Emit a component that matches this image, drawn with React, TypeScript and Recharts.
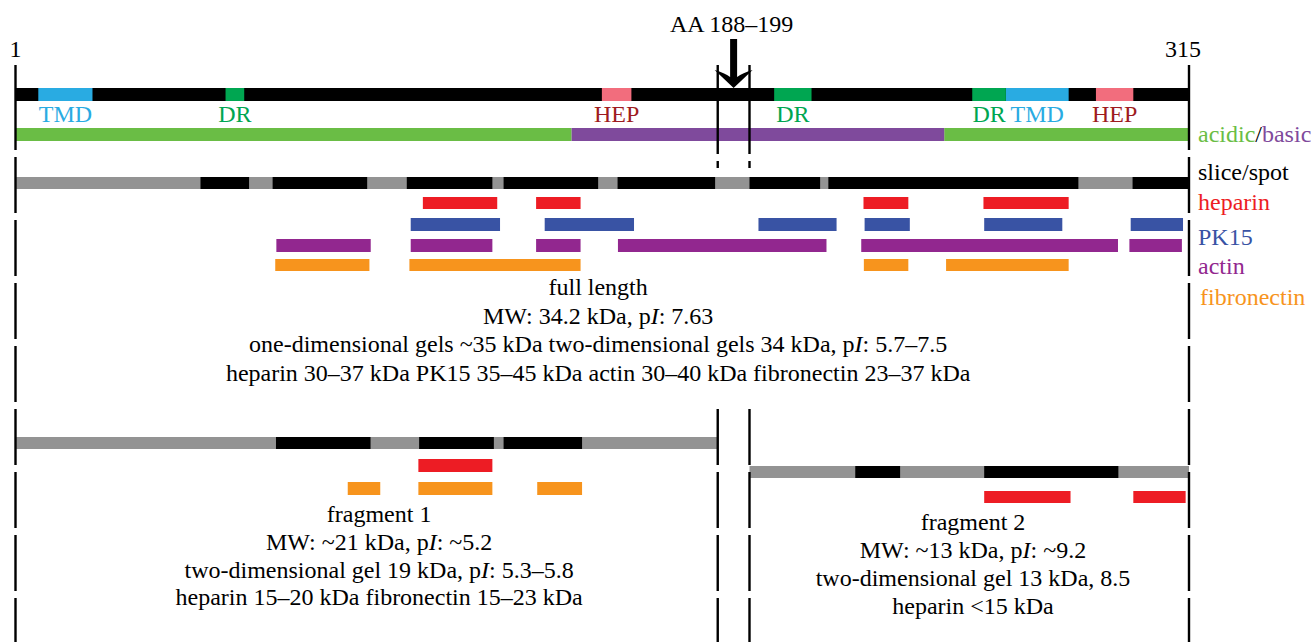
import React from 'react'
import {
  ComposedChart,
  XAxis,
  YAxis,
  ReferenceArea,
  ReferenceLine,
  ReferenceDot,
} from 'recharts'

type Span = [number, number]

// sequence numbering
const residueDomain: Span = [1, 315]
const cleavageSite: Span = [188.9, 197.4]
const cleavageLabel = 'AA 188–199'

// annotated domains on the sequence
const tmdSpans: Span[] = [[7.1, 21.6], [266, 282.8]]
const drSpans: Span[] = [[57.2, 62.2], [204, 214], [257, 266]]
const hepSpans: Span[] = [[157.9, 165.8], [290.1, 300.1]]
const acidicSpans: Span[] = [[1, 149.8], [249.5, 315]]
const basicSpans: Span[] = [[149.8, 249.5]]

// slice/spot coverage: grey = whole fragment, black = identified spots
const fullRange: Span = [1, 315]
const fullSpots: Span[] = [
  [50.5, 63.5], [69.8, 95.1], [105.7, 128.6], [131.6, 156.9],
  [162.1, 188.2], [197.4, 216.3], [218.5, 285.4], [299.9, 315],
]
const frag1Range: Span = [1, 188.9]
const frag1Spots: Span[] = [[70.7, 96], [109, 129], [131.6, 152.6]]
const frag2Range: Span = [197.4, 315]
const frag2Spots: Span[] = [[225.7, 237.7], [260.2, 296.1]]

// binding peptides, full length
const fullHeparin: Span[] = [[110, 129.9], [140.3, 152.2], [227.9, 239.9], [260, 282.8]]
const fullPK15: Span[] = [
  [106.75, 130.65], [142.6, 166.5], [199.8, 220.7],
  [228.2, 240.3], [260.2, 281.1], [299.4, 313.4],
]
const fullActin: Span[] = [
  [70.8, 96.05], [106.75, 128.6], [140.3, 152.2],
  [162.2, 218], [227.3, 296], [299.05, 313.1],
]
const fullFibronectin: Span[] = [[70.5, 95.7], [106.4, 152.2], [228, 239.9], [250, 282.8]]

// binding peptides, fragments
const frag1Heparin: Span[] = [[108.8, 128.6]]
const frag1Fibronectin: Span[] = [[89.9, 98.6], [108.8, 128.6], [140.6, 152.6]]
const frag2Heparin: Span[] = [[260.2, 283.3], [300.1, 314.1]]

const fullText = [
  'full length',
  'MW: 34.2 kDa, pI: 7.63',
  'one-dimensional gels ~35 kDa two-dimensional gels 34 kDa, pI: 5.7–7.5',
  'heparin 30–37 kDa PK15 35–45 kDa actin 30–40 kDa fibronectin 23–37 kDa',
]
const frag1Text = [
  'fragment 1',
  'MW: ~21 kDa, pI: ~5.2',
  'two-dimensional gel 19 kDa, pI: 5.3–5.8',
  'heparin 15–20 kDa fibronectin 15–23 kDa',
]
const frag2Text = [
  'fragment 2',
  'MW: ~13 kDa, pI: ~9.2',
  'two-dimensional gel 13 kDa, 8.5',
  'heparin <15 kDa',
]

const C = {
  black: '#000000',
  grey: '#939393',
  tmd: '#29abe2',
  dr: '#00a651',
  hep: '#f26d7d',
  hepText: '#9e1b20',
  acidic: '#6abd45',
  basic: '#7f4a9c',
  heparin: '#ed1c24',
  pk15: '#3953a4',
  actin: '#92278f',
  fibronectin: '#f7941d',
}

const FONT = '"Liberation Serif", "Times New Roman", serif'
const FS = 24

// row positions (pixels from top)
const ROW: Record<string, Span> = {
  domains: [88, 101],
  charge: [128, 141],
  fullSlice: [177, 189],
  fullHeparin: [197, 209],
  fullPK15: [218, 231],
  fullActin: [239, 252],
  fullFn: [259, 271],
  f1Slice: [437, 449],
  f1Heparin: [459, 472],
  f1Fn: [482, 495],
  f2Slice: [466, 478],
  f2Heparin: [491, 503],
}

const bars = (spans: Span[], row: Span, fill: string, key: string) =>
  spans.map(([a, b], i) => (
    <ReferenceArea
      key={`${key}-${i}`}
      x1={a}
      x2={b}
      y1={row[0]}
      y2={row[1]}
      fill={fill}
      fillOpacity={1}
      stroke="none"
      ifOverflow="visible"
    />
  ))

const withPI = (s: string) => {
  const parts = s.split('pI')
  return parts.map((p, i) => (
    <React.Fragment key={i}>
      {i > 0 && <tspan fontStyle="italic">I</tspan>}
      {i < parts.length - 1 ? p + 'p' : p}
    </React.Fragment>
  ))
}

const label = (
  key: string,
  x: number,
  y: number,
  content: React.ReactNode,
  fill = '#000',
  anchor: 'start' | 'middle' | 'end' = 'middle',
  dx = 0
) => (
  <ReferenceDot
    key={key}
    x={x}
    y={y}
    r={0}
    ifOverflow="visible"
    shape={(p: any) => (
      <text
        x={p.cx + dx}
        y={p.cy}
        fill={fill}
        textAnchor={anchor}
        fontFamily={FONT}
        fontSize={FS}
      >
        {content}
      </text>
    )}
  />
)

const vline = (key: string, x: number, y1: number, y2: number, dash?: string) => (
  <ReferenceLine
    key={key}
    segment={[{ x, y: y1 }, { x, y: y2 }]}
    stroke="#000"
    strokeWidth={2.4}
    strokeDasharray={dash}
    ifOverflow="visible"
  />
)

const mid = (s: Span) => (s[0] + s[1]) / 2

export default function App() {
  const cutMid = mid(cleavageSite)
  return (
    <div style={{ position: 'absolute', left: 0, top: 0, background: '#fff' }}>
      <ComposedChart
        width={1311}
        height={642}
        data={[]}
        margin={{ top: 0, right: 122, bottom: 0, left: 15.5 }}
      >
        <XAxis type="number" dataKey="x" domain={residueDomain} hide allowDataOverflow />
        <YAxis type="number" domain={[0, 642]} reversed hide allowDataOverflow />

        {/* frame lines */}
        {[residueDomain[0], residueDomain[1]].map((x, i) => [
          vline(`o${i}a`, x, 65, 150),
          vline(`o${i}b`, x, 157, 642, '56 7'),
        ])}
        {cleavageSite.map((x, i) => [
          vline(`c${i}a`, x, 65, 154),
          vline(`c${i}b`, x, 161, 168),
          vline(`c${i}c`, x, 409, 642, '56 7'),
        ])}

        {/* sequence with domains */}
        {bars([residueDomain], ROW.domains, C.black, 'seq')}
        {bars(tmdSpans, ROW.domains, C.tmd, 'tmd')}
        {bars(drSpans, ROW.domains, C.dr, 'dr')}
        {bars(hepSpans, ROW.domains, C.hep, 'hep')}
        {tmdSpans.map((s, i) => label(`tmdl${i}`, mid(s), 122, 'TMD', C.tmd))}
        {drSpans.map((s, i) => label(`drl${i}`, mid(s), 122, 'DR', C.dr))}
        {hepSpans.map((s, i) => label(`hepl${i}`, mid(s), 122, 'HEP', C.hepText))}

        {/* charge */}
        {bars(acidicSpans, ROW.charge, C.acidic, 'ac')}
        {bars(basicSpans, ROW.charge, C.basic, 'ba')}

        {/* full length */}
        {bars([fullRange], ROW.fullSlice, C.grey, 'fs')}
        {bars(fullSpots, ROW.fullSlice, C.black, 'fsp')}
        {bars(fullHeparin, ROW.fullHeparin, C.heparin, 'fh')}
        {bars(fullPK15, ROW.fullPK15, C.pk15, 'fp')}
        {bars(fullActin, ROW.fullActin, C.actin, 'fa')}
        {bars(fullFibronectin, ROW.fullFn, C.fibronectin, 'ff')}

        {/* fragment 1 */}
        {bars([frag1Range], ROW.f1Slice, C.grey, 'f1s')}
        {bars(frag1Spots, ROW.f1Slice, C.black, 'f1sp')}
        {bars(frag1Heparin, ROW.f1Heparin, C.heparin, 'f1h')}
        {bars(frag1Fibronectin, ROW.f1Fn, C.fibronectin, 'f1f')}

        {/* fragment 2 */}
        {bars([frag2Range], ROW.f2Slice, C.grey, 'f2s')}
        {bars(frag2Spots, ROW.f2Slice, C.black, 'f2sp')}
        {bars(frag2Heparin, ROW.f2Heparin, C.heparin, 'f2h')}

        {/* cleavage arrow */}
        <ReferenceDot
          x={cutMid}
          y={88}
          r={0}
          ifOverflow="visible"
          shape={(p: any) => {
            const cx = p.cx
            const cy = p.cy
            const d = `M${cx - 19},${cy - 18} Q${cx - 9},${cy - 15} ${cx - 3.5},${cy - 11} L${cx - 3.5},${cy - 49} L${cx + 3.5},${cy - 49} L${cx + 3.5},${cy - 11} Q${cx + 9},${cy - 15} ${cx + 19},${cy - 18} L${cx},${cy} Z`
            return <path d={d} fill="#000" />
          }}
        />
        {label('cut', cutMid, 31.5, cleavageLabel, '#000', 'middle', -2)}

        {/* ends */}
        {label('n', residueDomain[0], 57, '1')}
        {label('c', residueDomain[1], 57, '315', '#000', 'middle', -6)}

        {/* right legend */}
        {label(
          'lg0',
          residueDomain[1],
          141.5,
          <>
            <tspan fill={C.acidic}>acidic</tspan>
            <tspan fill="#000">/</tspan>
            <tspan fill={C.basic}>basic</tspan>
          </>,
          '#000',
          'start',
          9
        )}
        {label('lg1', residueDomain[1], 179.5, 'slice/spot', '#000', 'start', 9)}
        {label('lg2', residueDomain[1], 210, 'heparin', C.heparin, 'start', 9)}
        {label('lg3', residueDomain[1], 244.5, 'PK15', C.pk15, 'start', 9)}
        {label('lg4', residueDomain[1], 274, 'actin', C.actin, 'start', 9)}
        {label('lg5', residueDomain[1], 305, 'fibronectin', C.fibronectin, 'start', 11)}

        {/* descriptions */}
        {fullText.map((t, i) => label(`ft${i}`, 156.9, 295 + i * 28.7, withPI(t)))}
        {frag1Text.map((t, i) => label(`f1t${i}`, 98.3, 522 + i * 27.8, withPI(t)))}
        {frag2Text.map((t, i) => label(`f2t${i}`, 257.2, 529.5 + i * 28.3, withPI(t)))}
      </ComposedChart>
    </div>
  )
}
